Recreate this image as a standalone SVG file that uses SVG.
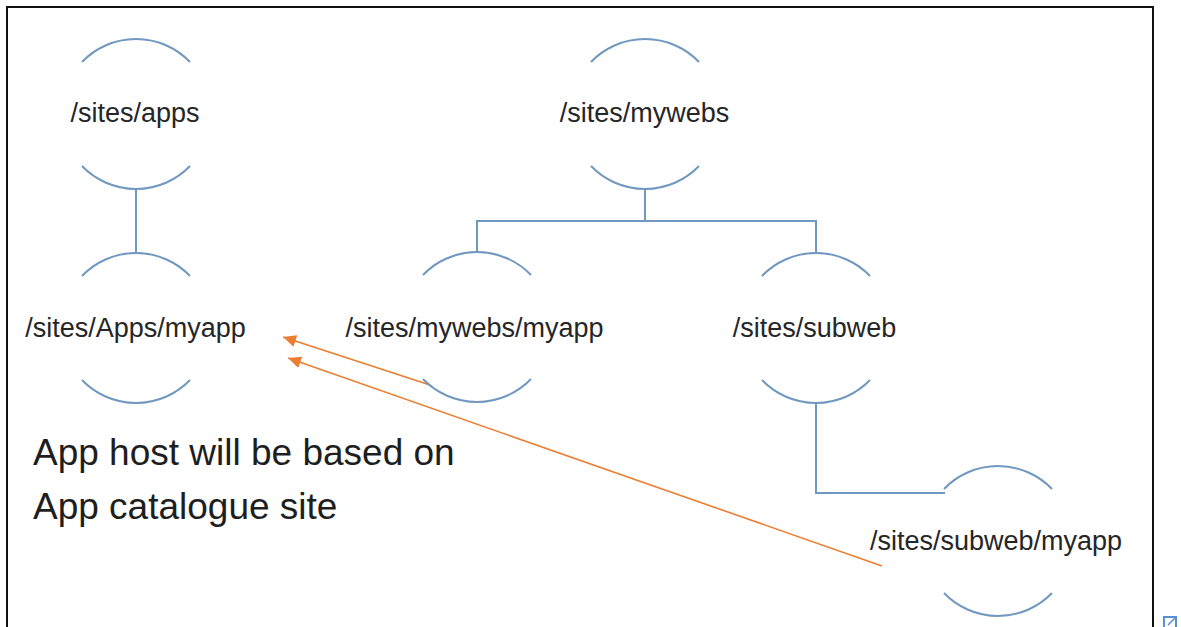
<svg xmlns="http://www.w3.org/2000/svg" width="1181" height="627" viewBox="0 0 1181 627">
<style>
.arc{fill:none;stroke:#7098c0;stroke-width:2}
.con{fill:none;stroke:#7098c0;stroke-width:2}
.lbl{font-family:"Liberation Sans",Arial,sans-serif;font-size:27px;fill:#262626;text-anchor:middle}
.big{font-family:"Liberation Sans",Arial,sans-serif;font-size:37px;fill:#1e1e1e}
.arr{fill:none;stroke:#ED7D31;stroke-width:1.6}
</style>
<defs>
<marker id="ah" markerUnits="userSpaceOnUse" markerWidth="14" markerHeight="12" refX="13" refY="6" orient="auto">
<path d="M0,0 L13,6 L0,12 Z" fill="#ED7D31"/>
</marker>
</defs>
<rect width="1181" height="627" fill="#fff"/>
<path d="M7,627 V7 H1153 V627" fill="none" stroke="#111" stroke-width="2"/>
<g id="icon">
<rect x="1164" y="617" width="12" height="12" fill="none" stroke="#5b8fd6" stroke-width="2"/>
<path d="M1168,625 L1176,617 M1171,617 H1176 V622" fill="none" stroke="#5b8fd6" stroke-width="1.5"/>
</g>
<g id="connectors">
<path class="con" d="M136,190 V253"/>
<path class="con" d="M645,190 V221" stroke-width="2.6"/>
<path class="con" d="M477,252 V221 H816 V252"/>
<path class="con" d="M816,403 V493 H945"/>
<path class="arr" d="M430,385 L283,337" marker-end="url(#ah)"/>
<path class="arr" d="M882,566 L288,358" marker-end="url(#ah)"/>
</g>
<g id="n-apps">
<path class="arc" d="M82,62 A75,75 0 0 1 190,62 M82,166 A75,75 0 0 0 190,166"/>
<text class="lbl" x="135" y="122">/sites/apps</text>
</g>
<g id="n-apps-myapp">
<path class="arc" d="M82,276 A75,75 0 0 1 190,276 M82,380 A75,75 0 0 0 190,380"/>
<text class="lbl" x="135.5" y="337">/sites/Apps/myapp</text>
</g>
<g id="n-mywebs">
<path class="arc" d="M591,62 A75,75 0 0 1 699,62 M591,166 A75,75 0 0 0 699,166"/>
<text class="lbl" x="644.5" y="122">/sites/mywebs</text>
</g>
<g id="n-mywebs-myapp">
<path class="arc" d="M423,275 A75,75 0 0 1 531,275 M423,379 A75,75 0 0 0 531,379"/>
<text class="lbl" x="474.5" y="337">/sites/mywebs/myapp</text>
</g>
<g id="n-subweb">
<path class="arc" d="M762,276 A75,75 0 0 1 870,276 M762,380 A75,75 0 0 0 870,380"/>
<text class="lbl" x="814.5" y="337">/sites/subweb</text>
</g>
<g id="n-subweb-myapp">
<path class="arc" d="M944,489 A75,75 0 0 1 1052,489 M944,593 A75,75 0 0 0 1052,593"/>
<text class="lbl" x="996" y="550">/sites/subweb/myapp</text>
</g>
<g id="note">
<text class="big" x="33" y="465">App host will be based on</text>
<text class="big" x="33" y="519">App catalogue site</text>
</g>
</svg>
